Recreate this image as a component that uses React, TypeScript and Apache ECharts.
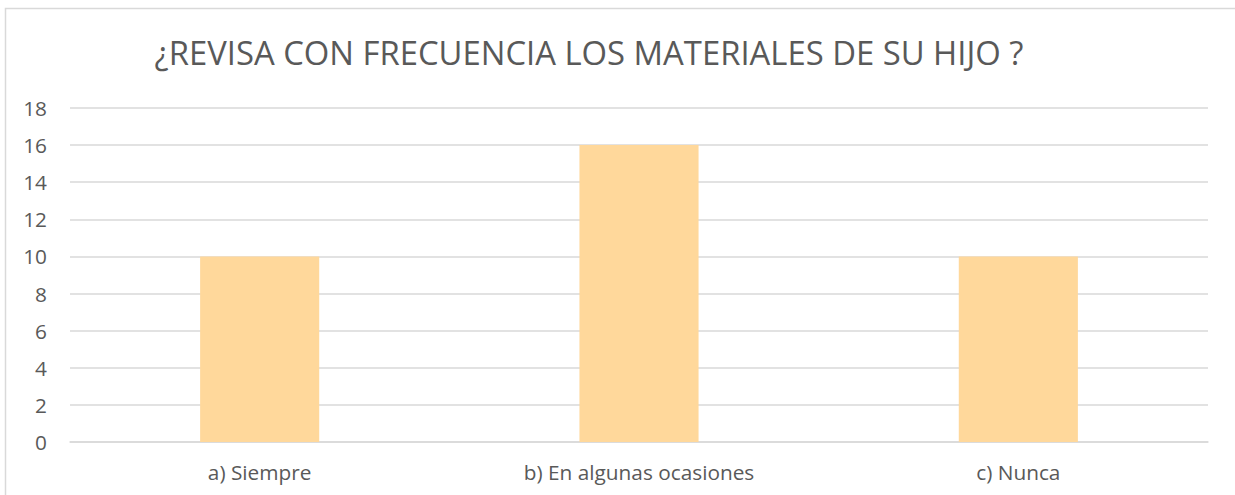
import React, { useEffect, useRef } from "react";
import * as echarts from "echarts";

const categories = ["a) Siempre", "b) En algunas ocasiones", "c) Nunca"];
const values = [10, 16, 10];
const yTicks = [0, 18, 2];
const titleText = "¿REVISA CON FRECUENCIA LOS MATERIALES DE SU HIJO ?";

export default function App() {
  const ref = useRef<HTMLDivElement>(null);
  useEffect(() => {
    const chart = echarts.init(ref.current!, null, { renderer: "svg" });
    const font = "'Open Sans', 'Noto Sans', sans-serif";
    chart.setOption({
      animation: false,
      backgroundColor: "#ffffff",
      title: {
        text: titleText,
        left: 584,
        textAlign: "center",
        top: 31,
        textStyle: { fontFamily: font, fontSize: 32.8, fontWeight: "normal", color: "#595959" },
      },
      graphic: [
        {
          type: "rect",
          shape: { x: 5.5, y: 8.5, width: 1300, height: 600 },
          style: { fill: "none", stroke: "#D9D9D9", lineWidth: 1.5 },
          silent: true,
        },
      ],
      grid: { left: 70, right: 27, top: 108, bottom: 53, containLabel: false },
      xAxis: {
        type: "category",
        data: categories,
        axisLine: { lineStyle: { color: "#D9D9D9", width: 1.5 } },
        axisTick: { show: false },
        axisLabel: { color: "#595959", fontFamily: font, fontSize: 20.8, margin: 19 },
      },
      yAxis: {
        type: "value",
        min: yTicks[0],
        max: yTicks[1],
        interval: yTicks[2],
        axisLine: { show: false },
        axisTick: { show: false },
        splitLine: { lineStyle: { color: "#D9D9D9", width: 1.5 } },
        axisLabel: { color: "#595959", fontFamily: font, fontSize: 20.8, margin: 23 },
      },
      series: [
        {
          type: "bar",
          data: values,
          barWidth: "31.4%",
          itemStyle: { color: "#FFD89B" },
        },
      ],
    });
    return () => chart.dispose();
  }, []);
  return <div ref={ref} style={{ position: "absolute", left: 0, top: 0, width: 1235, height: 495 }} />;
}
